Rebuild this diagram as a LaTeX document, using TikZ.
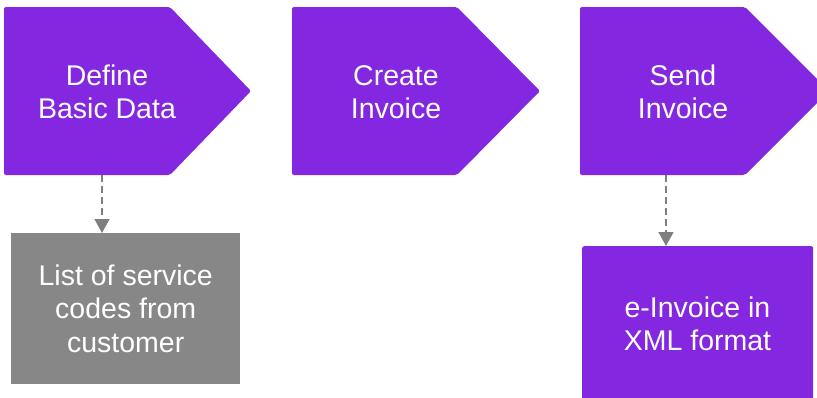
\documentclass[tikz,border=0pt]{standalone}
\usepackage{fontspec}
\setmainfont{Liberation Sans}
\usetikzlibrary{arrows.meta}
\definecolor{vio}{HTML}{8427E0}
\definecolor{boxgray}{HTML}{878787}
\definecolor{arrgray}{HTML}{7F7F7F}
\begin{document}
\begin{tikzpicture}[x=1pt,y=-1pt,
  lbl/.style={text=white,align=center,font=\fontsize{28.5}{33.5}\selectfont,inner sep=0pt},
  chev/.style={fill=vio,rounded corners=2pt},
  dep/.style={draw=arrgray,line width=1.3pt,dash pattern=on 7pt off 4pt,
    -{Triangle[length=14pt,width=15pt,fill=arrgray]}, shorten >=0pt}]
\useasboundingbox (0,0) rectangle (817,397);
% chevrons
\fill[chev] (4,7) -- (170,7) -- (251,91) -- (170,175) -- (4,175) -- cycle;
\fill[chev] (292,7) -- (457,7) -- (540,91) -- (457,175) -- (292,175) -- cycle;
\fill[chev] (580,7) -- (745,7) -- (829,91) -- (745,175) -- (580,175) -- cycle;
\node[lbl] (def) at (107,92) {Define\\Basic Data};
\node[lbl] (cre) at (396,92) {Create\\Invoice};
\node[lbl] (snd) at (683,92) {Send\\Invoice};
\coordinate (defb) at (102,175);
\coordinate (sndb) at (666,175);
% boxes
\node[fill=boxgray,minimum width=229pt,minimum height=151pt,inner sep=0pt,anchor=north west]
  (list) at (11,233) {};
\node[lbl] (listt) at (list.center) {List of service\\codes from\\customer};
\node[fill=vio,rounded corners=2pt,minimum width=231pt,minimum height=160pt,inner sep=0pt,anchor=north west]
  (xml) at (582,246) {};
\node[lbl] (xmlt) at (697.5,324) {e-Invoice in\\XML format};
% connectors
\draw[dep] (defb) -- (list.north -| defb);
\draw[dep] (sndb) -- (xml.north -| sndb);
\end{tikzpicture}
\end{document}
